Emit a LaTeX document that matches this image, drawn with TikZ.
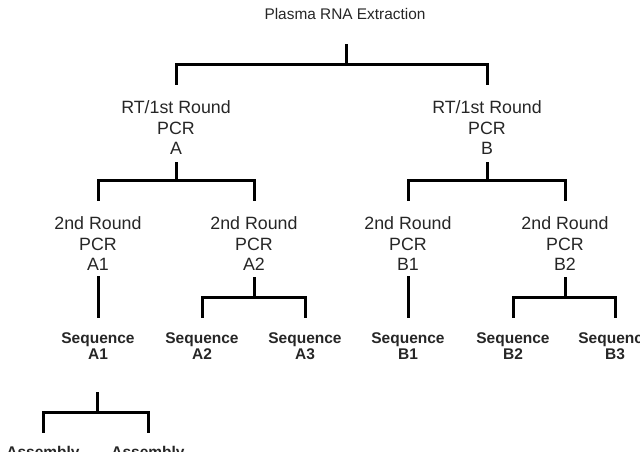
\documentclass[tikz,border=0pt]{standalone}
\usepackage{fontspec}
\setmainfont{Liberation Sans}
\begin{document}
\begin{tikzpicture}[x=1pt,y=-1pt,
  br/.style={line width=3pt,line cap=rect},
  lbl/.style={anchor=north,inner sep=0pt,align=center,text=black!85,font=\fontsize{17.8}{20.5}\selectfont},
  seq/.style={anchor=north,inner sep=0pt,align=center,text=black!85,font=\fontsize{15.5}{15.5}\selectfont\bfseries},
  ttl/.style={anchor=base,inner sep=0pt,text=black!85,font=\fontsize{15.4}{18}\selectfont}]
\useasboundingbox (0,0) rectangle (640,451);
\clip (0,0) rectangle (640,451);
% labels
\node[ttl] (title) at (345,19.5) {Plasma RNA Extraction};
\node[lbl] (rtA) at (176,100.5) {RT/1st Round\\PCR\\A};
\node[lbl] (rtB) at (487,100.5) {RT/1st Round\\PCR\\B};
\node[lbl] (pA1) at (98,216.5) {2nd Round\\PCR\\A1};
\node[lbl] (pA2) at (254,216.5) {2nd Round\\PCR\\A2};
\node[lbl] (pB1) at (408,216.5) {2nd Round\\PCR\\B1};
\node[lbl] (pB2) at (565,216.5) {2nd Round\\PCR\\B2};
\node[seq] (sA1) at (98,332.5) {Sequence\\A1};
\node[seq] (sA2) at (202,332.5) {Sequence\\A2};
\node[seq] (sA3) at (305,332.5) {Sequence\\A3};
\node[seq] (sB1) at (408,332.5) {Sequence\\B1};
\node[seq] (sB2) at (513,332.5) {Sequence\\B2};
\node[seq] (sB3) at (615,332.5) {Sequence\\B3};
\node[seq] (asA) at (43,446.5) {Assembly};
\node[seq] (asB) at (148,446.5) {Assembly};
% junction coordinates
\coordinate (t0) at (346,45);   \coordinate (j0) at (346,64);
\coordinate (tA) at (176,163);  \coordinate (jA) at (176,180);
\coordinate (tB) at (487,163);  \coordinate (jB) at (487,180);
\coordinate (tA1) at (98,277);
\coordinate (tA2) at (254,278); \coordinate (jA2) at (254,297);
\coordinate (tB1) at (408,277);
\coordinate (tB2) at (565,278); \coordinate (jB2) at (565,297);
\coordinate (tS) at (97,393);   \coordinate (jS) at (97,412);
% connectors
\draw[br] (t0) -- (j0);
\draw[br] ([yshift=17pt]rtA.north) |- (j0) -| ([yshift=17pt]rtB.north);
\draw[br] (tA) -- (jA);
\draw[br] ([yshift=17pt]pA1.north) |- (jA) -| ([yshift=17pt]pA2.north);
\draw[br] (tB) -- (jB);
\draw[br] ([yshift=17pt]pB1.north) |- (jB) -| ([yshift=17pt]pB2.north);
\draw[br] (tA1) -- ([yshift=16pt]sA1.north);
\draw[br] (tA2) -- (jA2);
\draw[br] ([yshift=16pt]sA2.north) |- (jA2) -| ([yshift=16pt]sA3.north);
\draw[br] (tB1) -- ([yshift=16pt]sB1.north);
\draw[br] (tB2) -- (jB2);
\draw[br] ([yshift=16pt]sB2.north) |- (jB2) -| ([yshift=16pt]sB3.north);
\draw[br] (tS) -- (jS);
\draw[br] ([yshift=15pt]asA.north) |- (jS) -| ([yshift=15pt]asB.north);
\end{tikzpicture}
\end{document}
